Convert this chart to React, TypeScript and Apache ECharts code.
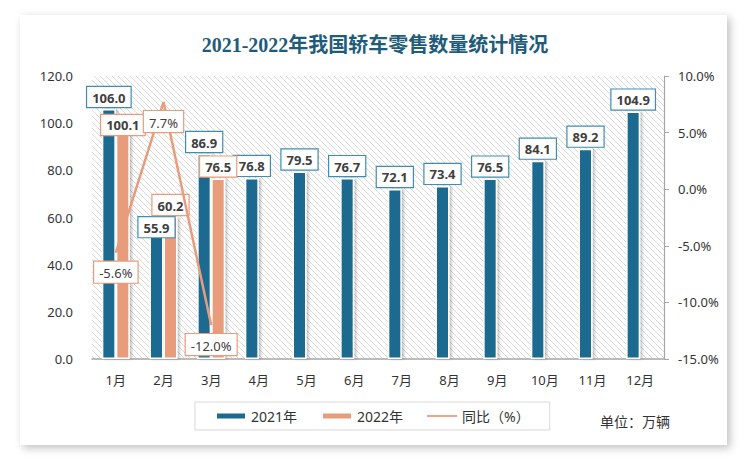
import React, { useEffect, useRef } from "react";
import * as echarts from "echarts";

const months = ["1月", "2月", "3月", "4月", "5月", "6月", "7月", "8月", "9月", "10月", "11月", "12月"];
const sales2021 = [106.0, 55.9, 86.9, 76.8, 79.5, 76.7, 72.1, 73.4, 76.5, 84.1, 89.2, 104.9];
const sales2022: (number | null)[] = [100.1, 60.2, 76.5, null, null, null, null, null, null, null, null, null];
const yoy: (number | null)[] = [-5.6, 7.7, -12.0, null, null, null, null, null, null, null, null, null];

const BLUE = "#1C6B8F";
const ORANGE = "#E99C7B";

function makeHatch(): string {
  const c = document.createElement("canvas");
  c.width = 6;
  c.height = 6;
  const ctx = c.getContext("2d");
  if (ctx) {
    ctx.fillStyle = "#ffffff";
    ctx.fillRect(0, 0, 6, 6);
    ctx.strokeStyle = "#d9d9d9";
    ctx.lineWidth = 1;
    ctx.beginPath();
    ctx.moveTo(-1, -1);
    ctx.lineTo(7, 7);
    ctx.moveTo(-1, 5);
    ctx.lineTo(1, 7);
    ctx.moveTo(5, -1);
    ctx.lineTo(7, 1);
    ctx.stroke();
  }
  return c.toDataURL();
}

export default function App() {
  const ref = useRef<HTMLDivElement>(null);
  useEffect(() => {
    if (!ref.current) return;
    const chart = echarts.init(ref.current, null, { renderer: "svg" });
    const labelFont = { fontFamily: "'Noto Sans', 'Noto Sans CJK SC', sans-serif" };
    const dy2021: Record<number, number> = { 1: 12 };
    const dy2022: Record<number, number> = { 0: 14 };

    const barLabel = (border: string) => ({
      show: true,
      position: "top" as const,
      distance: 2,
      formatter: (p: any) => Number(p.value).toFixed(1),
      backgroundColor: "#fff",
      borderColor: border,
      borderWidth: 1.2,
      padding: [4, 5, 3, 5],
      color: "#404040",
      fontSize: 13,
      fontWeight: "bold" as const,
      ...labelFont,
    });

    chart.setOption({
      animation: false,
      backgroundColor: "#ffffff",
      title: {
        text: "2021-2022年我国轿车零售数量统计情况",
        left: "center",
        top: 30,
        textStyle: {
          fontFamily: "'Liberation Serif', 'Noto Sans CJK SC', serif",
          fontWeight: "bold",
          fontSize: 20,
          color: "#1F5C7A",
        },
      },
      graphic: [
        {
          type: "rect",
          z: -100,
          zlevel: 0,
          shape: { x: 20, y: 15, width: 707, height: 430 },
          style: {
            fill: "#fff",
            shadowBlur: 8,
            shadowColor: "rgba(0,0,0,0.25)",
            shadowOffsetX: 3,
            shadowOffsetY: 3,
          },
          silent: true,
        },
        {
          type: "text",
          left: 600,
          top: 414,
          style: {
            text: "单位：万辆",
            fill: "#333",
            fontSize: 14,
            fontFamily: "'Noto Sans CJK SC', sans-serif",
          },
        },
      ],
      legend: {
        left: 195,
        top: 402,
        width: 348,
        itemWidth: 30,
        itemHeight: 7,
        itemGap: 24,
        padding: [7, 20, 7, 20],
        borderColor: "#d9d9d9",
        borderWidth: 1,
        textStyle: { fontSize: 14, color: "#333", fontFamily: "'Noto Sans', 'Noto Sans CJK SC', sans-serif" },
        data: [
          { name: "2021年", icon: "rect" },
          { name: "2022年", icon: "rect" },
          { name: "同比（%）", icon: "path://M0,2.6h30v1.8h-30z" },
        ],
      },
      grid: {
        left: 92,
        right: 86,
        top: 76,
        bottom: 101,
        show: true,
        borderWidth: 0,
        backgroundColor: { image: makeHatch(), repeat: "repeat" } as any,
      },
      xAxis: {
        type: "category",
        data: months,
        axisLine: { lineStyle: { color: "#a6a6a6", width: 1.5 } },
        axisTick: { show: false },
        axisLabel: { color: "#333", fontSize: 13, margin: 14, ...labelFont },
      },
      yAxis: [
        {
          type: "value",
          min: 0,
          max: 120,
          interval: 20,
          axisLine: { show: false },
          axisTick: { show: false },
          splitLine: { show: false },
          axisLabel: { color: "#333", fontSize: 13, margin: 19, formatter: (v: number) => v.toFixed(1), ...labelFont },
        },
        {
          type: "value",
          min: -15,
          max: 10,
          interval: 5,
          position: "right",
          axisLine: { show: true, lineStyle: { color: "#a6a6a6", width: 1.2 } },
          axisTick: { show: true, length: 5, lineStyle: { color: "#a6a6a6" } },
          splitLine: { show: false },
          axisLabel: { color: "#333", fontSize: 13, margin: 14, formatter: (v: number) => v.toFixed(1) + "%", ...labelFont },
        },
      ],
      series: [
        {
          name: "2021年",
          type: "bar",
          barWidth: 14,
          barGap: "0%",
          z: 2,
          itemStyle: {
            color: BLUE,
            borderColor: "#fff",
            borderWidth: 1.5,
            shadowColor: "rgba(0,0,0,0.25)",
            shadowBlur: 3,
            shadowOffsetX: 2,
          },
          label: barLabel("#3F8DB3"),
          labelLayout: (p: any) => ({ dy: dy2021[p.dataIndex] || 0, hideOverlap: false }),
          data: sales2021,
        },
        {
          name: "2022年",
          type: "bar",
          barWidth: 14,
          barGap: "0%",
          z: 2,
          itemStyle: {
            color: ORANGE,
            borderColor: "#fff",
            borderWidth: 1.5,
            shadowColor: "rgba(0,0,0,0.25)",
            shadowBlur: 3,
            shadowOffsetX: 2,
          },
          label: barLabel(ORANGE),
          labelLayout: (p: any) => ({ dy: dy2022[p.dataIndex] || 0, hideOverlap: false }),
          data: sales2022,
        },
        {
          name: "同比（%）",
          type: "line",
          yAxisIndex: 1,
          z: 5,
          symbol: "circle",
          symbolSize: 0.1,
          showSymbol: true,
          lineStyle: { color: ORANGE, width: 2.5 },
          itemStyle: { color: ORANGE },
          label: {
            show: true,
            position: "bottom",
            distance: 9,
            formatter: (p: any) => Number(p.value).toFixed(1) + "%",
            backgroundColor: "#fff",
            borderColor: ORANGE,
            borderWidth: 1.2,
            padding: [5, 5, 3, 5],
            color: "#404040",
            fontSize: 13,
            ...labelFont,
          },
          labelLayout: { hideOverlap: false },
          data: yoy,
        },
      ],
    });
    return () => chart.dispose();
  }, []);
  return (
    <div style={{ position: "fixed", left: 0, top: 0, width: 750, height: 460, background: "#fff" }}>
      <div ref={ref} style={{ width: 750, height: 460 }} />
    </div>
  );
}
